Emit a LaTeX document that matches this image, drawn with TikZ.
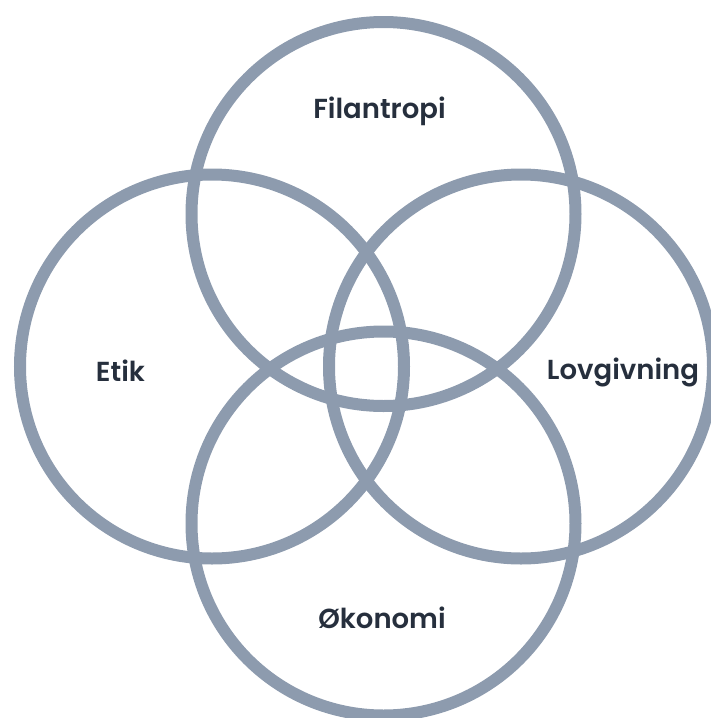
\documentclass[tikz,border=0pt]{standalone}
\usepackage{fontspec}
\setmainfont{Poppins}[BoldFont=* SemiBold]
\definecolor{ring}{HTML}{8D9BAE}
\definecolor{ink}{HTML}{262F3D}
\begin{document}
\begin{tikzpicture} [x=1pt,y=-1pt,
		ringline/.style={ring,line width=12pt},
		lbl/.style={ink,font=\bfseries\fontsize{27.5}{32}\selectfont}]
		\useasboundingbox (0,0) rectangle (711,718);
		\draw[ringline] (383.5,214) circle (192);
		\draw[ringline] (212,366.5) circle (192);
		\draw[ringline] (521,366.5) circle (192);
		\draw[ringline] (383.5,523.5) circle (192);
		\node [lbl] (fil) at (379.5,111) {Filantropi};
		\node [lbl] (etik) at (120.5,370.5) {Etik};
		\node [lbl] (lov) at (623,372) {Lovgivning};
		\node [lbl] (oko) at (382,618) {Økonomi};
		\end{tikzpicture}
\end{document}
